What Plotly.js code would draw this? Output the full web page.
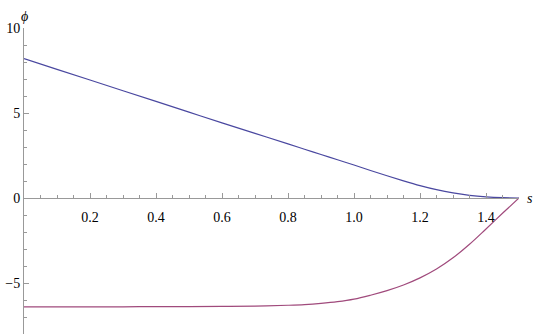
<!DOCTYPE html>
<html>
<head>
<meta charset="utf-8">
<script src="https://cdn.plot.ly/plotly-3.0.1.min.js"></script>
<style>html,body{margin:0;padding:0;background:#fff;}#chart{width:540px;height:335px;}</style>
</head>
<body>
<div id="chart"></div>
<script>
const sValues = [0, 0.1, 0.2, 0.3, 0.4, 0.5, 0.6, 0.7, 0.8, 0.85, 0.9, 0.95, 1.0, 1.05, 1.1, 1.15, 1.2, 1.25, 1.3, 1.35, 1.4, 1.45, 1.5];
const phiUpper = [8.2, 7.57, 6.94, 6.31, 5.68, 5.05, 4.42, 3.8, 3.18, 2.87, 2.56, 2.25, 1.94, 1.62, 1.31, 1.01, 0.73, 0.49, 0.3, 0.16, 0.07, 0.02, 0];
const phiLower = [-6.4, -6.4, -6.4, -6.4, -6.39, -6.39, -6.38, -6.36, -6.31, -6.27, -6.2, -6.1, -5.95, -5.72, -5.45, -5.12, -4.7, -4.18, -3.52, -2.72, -1.82, -0.9, 0];
const xTickVals = [0.2, 0.4, 0.6, 0.8, 1.0, 1.2, 1.4];
const xTickText = ["0.2", "0.4", "0.6", "0.8", "1.0", "1.2", "1.4"];
const yTickVals = [-5, 0, 5, 10];
const yTickText = ["\u22125", "0", "5", "10"];

const axisColor = "#999999";
const font = {family: "Liberation Serif", size: 14, color: "#000"};

const traces = [
  {x: sValues, y: phiUpper, mode: "lines", line: {color: "#4a48a0", width: 1.2, shape: "spline", smoothing: 1}, hoverinfo: "skip"},
  {x: sValues, y: phiLower, mode: "lines", line: {color: "#a04a7c", width: 1.2, shape: "spline", smoothing: 1}, hoverinfo: "skip"}
];

const layout = {
  width: 540, height: 335,
  margin: {l: 24, r: 20.5, t: 28, b: 1},
  paper_bgcolor: "#fff", plot_bgcolor: "#fff",
  showlegend: false,
  font: font,
  xaxis: {
    range: [0, 1.5], anchor: "free", position: 8/18,
    showline: true, linecolor: axisColor, linewidth: 1,
    showgrid: false, zeroline: false,
    tickmode: "array", tickvals: xTickVals, ticktext: xTickText,
    ticks: "inside", ticklen: 5, tickcolor: axisColor, tickwidth: 1,
    ticklabelstandoff: 6,
    minor: {dtick: 0.05, tick0: 0, ticks: "inside", ticklen: 3, tickcolor: axisColor, showgrid: false},
    tickfont: font
  },
  yaxis: {
    range: [-8, 10],
    showline: true, linecolor: axisColor, linewidth: 1,
    showgrid: false, zeroline: false,
    tickmode: "array", tickvals: yTickVals, ticktext: yTickText,
    ticks: "inside", ticklen: 5, tickcolor: axisColor, tickwidth: 1,
    minor: {dtick: 1, tick0: 0, ticks: "inside", ticklen: 3, tickcolor: axisColor, showgrid: false},
    tickfont: font
  },
  annotations: [
    {text: "<i>s</i>", xref: "paper", yref: "y", x: 1, y: 0, xanchor: "left", yanchor: "middle", xshift: 6, showarrow: false, font: font},
    {text: "<i>\u03d5</i>", xref: "x", yref: "paper", x: 0, y: 1, xanchor: "center", yanchor: "bottom", yshift: 2, showarrow: false, font: font}
  ]
};

Plotly.newPlot("chart", traces, layout, {staticPlot: true, displayModeBar: false});
</script>
</body>
</html>
